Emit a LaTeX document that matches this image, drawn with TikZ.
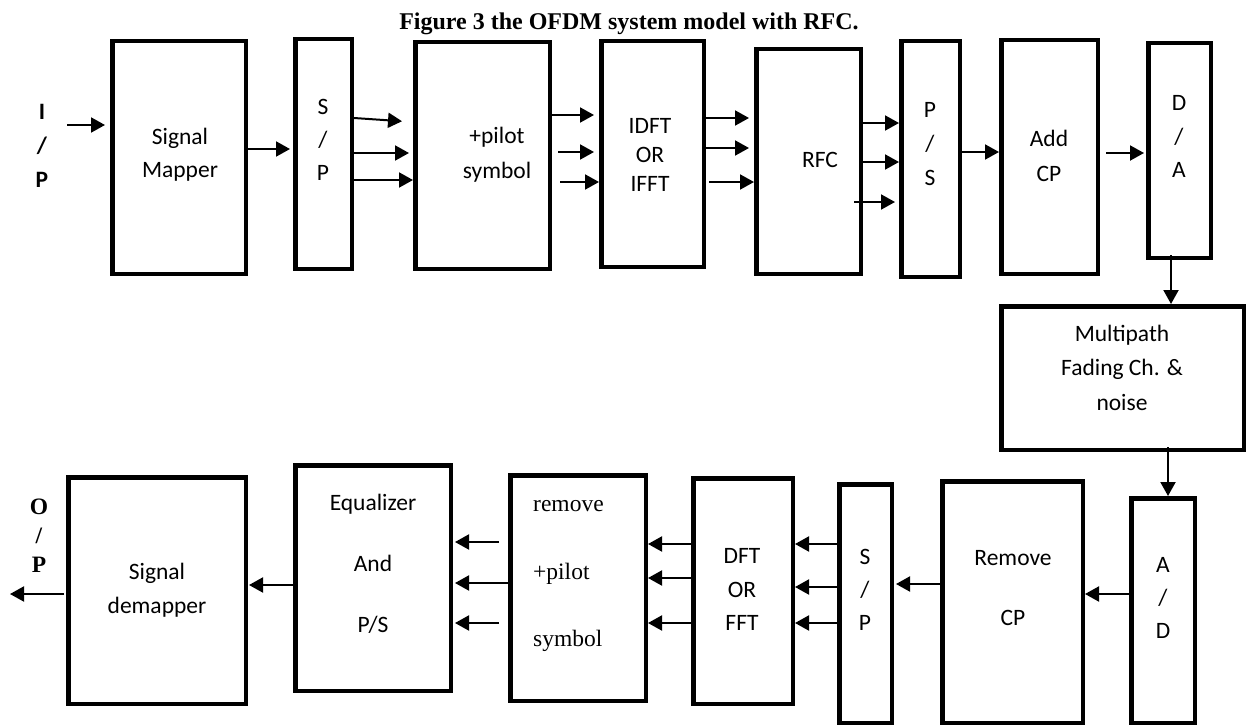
\documentclass[tikz,border=0pt]{standalone}
\usepackage{fontspec}
\setmainfont{Carlito}
\newfontfamily\tnr{Liberation Serif}
\usetikzlibrary{arrows.meta,calc}
\begin{document}
\begin{tikzpicture}[x=1pt,y=-1pt,
  box/.style 2 args={draw,line width=4.5pt,inner sep=0pt,minimum width={#1pt-4.5pt},minimum height={#2pt-4.5pt}},
  lbl/.style={align=center,inner sep=0pt,font=\fontsize{23.5}{#1}\selectfont},
  lbl/.default=33,
  arr/.style={line width=2pt,-{Triangle[length=14pt,width=15pt]}}]
\useasboundingbox (0,0) rectangle (1247,725);
\fill[white] (0,0) rectangle (1247,725);
% title
\node[inner sep=0pt,anchor=base,font=\tnr\bfseries\fontsize{24}{28}\selectfont] (title) at (629,30) {Figure 3 the OFDM system model with RFC.};
% top row boxes
\node[box={138}{237}] (map) at (179,157.5) {};
\node[box={61}{234}] (sp1) at (323.5,154) {};
\node[box={139}{231}] (pil) at (482.5,155.5) {};
\node[box={107}{230}] (idft) at (652.5,154) {};
\node[box={109}{229}] (rfc) at (808.5,161.5) {};
\node[box={63}{240}] (ps) at (930.5,159) {};
\node[box={101}{238}] (acp) at (1049.5,157) {};
\node[box={67}{219}] (da) at (1179.5,150.5) {};
\node[box={247}{148}] (mp) at (1122.5,378) {};
% bottom row boxes
\node[box={68}{229}] (ad) at (1163,610.5) {};
\node[box={145}{246}] (rcp) at (1012.5,602) {};
\node[box={57}{243}] (sp2) at (865.5,603.5) {};
\node[box={104}{230}] (dft) at (743,591) {};
\node[box={140}{230}] (rem) at (578,588) {};
\node[box={160}{230}] (eq) at (373,578) {};
\node[box={182}{231}] (dem) at (157,590.5) {};
% labels
\node[lbl=34,font=\bfseries\fontsize{23.5}{34}\selectfont] (iptxt) at (42,146) {I\\/\\P};
\node[lbl=33] (maptxt) at (180,155) {Signal\\Mapper};
\node[lbl=33] (sp1txt) at (323,140) {S\\/\\P};
\node[lbl=35] (piltxt) at (497,154.5) {+pilot\\symbol};
\node[lbl=29] (idfttxt) at (650,155) {IDFT\\OR\\IFFT};
\node[lbl] (rfctxt) at (820,160) {RFC};
\node[lbl=34] (pstxt) at (930,144) {P\\/\\S};
\node[lbl=35] (acptxt) at (1049,155.5) {Add\\CP};
\node[lbl=33.5] (datxt) at (1179,136.5) {D\\/\\A};
\node[lbl=34.5] (mptxt) at (1122,367.5) {Multipath\\Fading Ch. \&\\noise};
\node[lbl=33] (adtxt) at (1163,598) {A\\/\\D};
\node[lbl=60] (rcptxt) at (1013,588) {Remove\\CP};
\node[lbl=33] (sp2txt) at (865,590) {S\\/\\P};
\node[lbl=33.5] (dfttxt) at (742,589.5) {DFT\\OR\\FFT};
\node[lbl=67.5,align=left,anchor=west,font=\tnr\fontsize{23.5}{67.5}\selectfont] (remtxt) at (533,576) {remove\\+pilot\\symbol};
\node[lbl=61] (eqtxt) at (373,564) {Equalizer\\And\\P/S};
\node[lbl=34] (demtxt) at (157,590) {Signal\\demapper};
\node[lbl=29,font=\tnr\bfseries\fontsize{23.5}{29}\selectfont] (optxt) at (39,536) {O\\/\\P};
% top row connectors
\coordinate (inp) at (67,125);
\draw[arr,shorten >=5pt] (inp) -- (map.west |- inp);
\draw[arr,shorten >=3pt] (map.east |- 0,149) -- (sp1.west |- 0,149);
\draw[arr,shorten >=11pt] (sp1.east |- 0,118) -- (pil.west |- 0,122);
\draw[arr,shorten >=4pt] (sp1.east |- 0,153) -- (pil.west |- 0,153);
\draw[arr] (sp1.east |- 0,180) -- (pil.west |- 0,180);
\draw[arr,shorten >=5pt] (pil.east |- 0,115) -- (idft.west |- 0,115);
\draw[arr,shorten <=6pt,shorten >=5pt] (pil.east |- 0,152) -- (idft.west |- 0,152);
\draw[arr,shorten <=8pt] (pil.east |- 0,182) -- (idft.west |- 0,182);
\draw[arr,shorten >=5pt] (idft.east |- 0,118) -- (rfc.west |- 0,118);
\draw[arr,shorten >=5pt] (idft.east |- 0,148) -- (rfc.west |- 0,148);
\draw[arr,shorten <=3pt] (idft.east |- 0,182) -- (rfc.west |- 0,182);
\draw[arr] (rfc.east |- 0,123) -- (ps.west |- 0,123);
\draw[arr] (rfc.east |- 0,162) -- (ps.west |- 0,162);
\draw[arr,shorten >=4pt] ($(rfc.east |- 0,202)+(-9,0)$) -- (ps.west |- 0,202);
\draw[arr] (ps.east |- 0,152) -- (acp.west |- 0,152);
\draw[arr,shorten <=6pt,shorten >=2pt] (acp.east |- 0,153) -- (da.west |- 0,153);
\draw[arr] ($(da.south -| 1171,0)+(0,-5)$) -- (mp.north -| 1171,0);
\draw[arr] ($(mp.south -| 1168,0)+(0,-5)$) -- (ad.north -| 1168,0);
% bottom row connectors
\draw[arr] (ad.west |- 0,594) -- (rcp.east |- 0,594);
\draw[arr,shorten >=2pt] (rcp.west |- 0,584) -- (sp2.east |- 0,584);
\draw[arr] (sp2.west |- 0,544) -- (dft.east |- 0,544);
\draw[arr] (sp2.west |- 0,587) -- (dft.east |- 0,587);
\draw[arr] (sp2.west |- 0,623) -- (dft.east |- 0,623);
\draw[arr] (dft.west |- 0,544) -- (rem.east |- 0,544);
\draw[arr] (dft.west |- 0,578) -- (rem.east |- 0,578);
\draw[arr] (dft.west |- 0,623) -- (rem.east |- 0,623);
\draw[arr,shorten <=9pt,shorten >=2pt] (rem.west |- 0,542) -- (eq.east |- 0,542);
\draw[arr,shorten >=2pt] (rem.west |- 0,583) -- (eq.east |- 0,583);
\draw[arr,shorten <=9pt,shorten >=2pt] (rem.west |- 0,623) -- (eq.east |- 0,623);
\draw[arr,shorten >=1pt] (eq.west |- 0,585) -- (dem.east |- 0,585);
\coordinate (outp) at (10,594);
\draw[arr,shorten <=2pt] (dem.west |- outp) -- (outp);
\end{tikzpicture}
\end{document}
